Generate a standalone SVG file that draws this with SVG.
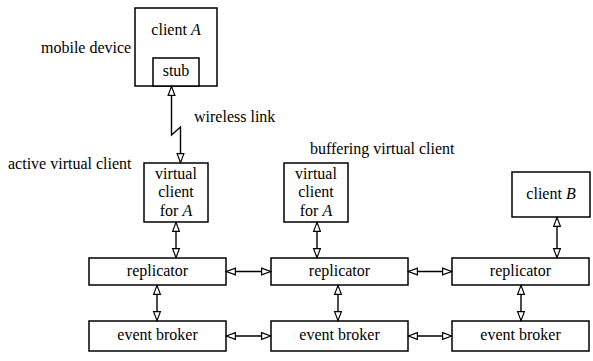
<svg xmlns="http://www.w3.org/2000/svg" width="593" height="361" viewBox="0 0 593 361">
<style>
.box{fill:#fff;stroke:#000;stroke-width:1.5}
.t{font-family:'Liberation Serif','DejaVu Serif',serif;font-size:16px;fill:#000}
.c{text-anchor:middle}
.ln{fill:none;stroke:#000;stroke-width:1.4;marker-start:url(#ah);marker-end:url(#ah)}
</style>
<defs>
<marker id="ah" viewBox="0 0 10 8" refX="10" refY="4" markerWidth="10" markerHeight="8" orient="auto-start-reverse" markerUnits="userSpaceOnUse" overflow="visible">
<path d="M0.6,0.6 L9.6,4 L0.6,7.4 z" fill="#fff" stroke="#000" stroke-width="1.2"/>
</marker>
</defs>
<rect width="593" height="361" fill="#fff"/>
<text class="t" font-family="Liberation Serif, serif" x="41" y="53">mobile device</text>
<text class="t" font-family="Liberation Serif, serif" x="194" y="122">wireless link</text>
<text class="t" font-family="Liberation Serif, serif" x="8" y="169">active virtual client</text>
<text class="t" font-family="Liberation Serif, serif" x="310" y="154">buffering virtual client</text>
<g id="clientA">
<rect class="box" x="135" y="8" width="82" height="78"/>
<text class="t c" x="176" y="35">client <tspan font-style="italic">A</tspan></text>
</g>
<g id="stub">
<rect class="box" x="153" y="58" width="46" height="28"/>
<text class="t c" x="176" y="76">stub</text>
</g>
<g id="vc1">
<rect class="box" x="144" y="163" width="64" height="59"/>
<text class="t c" x="176" y="179">virtual</text>
<text class="t c" x="176" y="197">client</text>
<text class="t c" x="176" y="216">for <tspan font-style="italic">A</tspan></text>
</g>
<g id="vc2">
<rect class="box" x="284" y="163" width="64" height="59"/>
<text class="t c" x="316" y="179">virtual</text>
<text class="t c" x="316" y="197">client</text>
<text class="t c" x="316" y="216">for <tspan font-style="italic">A</tspan></text>
</g>
<g id="clientB">
<rect class="box" x="512" y="172" width="78" height="45"/>
<text class="t c" x="551" y="199">client <tspan font-style="italic">B</tspan></text>
</g>
<g id="rep1">
<rect class="box" x="89" y="258" width="137" height="27"/>
<text class="t c" x="157.5" y="276">replicator</text>
</g>
<g id="rep2">
<rect class="box" x="271" y="258" width="137" height="27"/>
<text class="t c" x="339.5" y="276">replicator</text>
</g>
<g id="rep3">
<rect class="box" x="452" y="258" width="137" height="27"/>
<text class="t c" x="520.5" y="276">replicator</text>
</g>
<g id="eb1">
<rect class="box" x="89" y="321" width="137" height="30"/>
<text class="t c" x="157.5" y="340">event broker</text>
</g>
<g id="eb2">
<rect class="box" x="271" y="321" width="137" height="30"/>
<text class="t c" x="339.5" y="340">event broker</text>
</g>
<g id="eb3">
<rect class="box" x="452" y="321" width="137" height="30"/>
<text class="t c" x="520.5" y="340">event broker</text>
</g>
<g id="connectors">
<path class="ln" d="M171.5,86 L171.5,135 L180.5,127 L180.5,163"/>
<path class="ln" d="M176,222 L176,258"/>
<path class="ln" d="M317,222 L317,258"/>
<path class="ln" d="M557,217 L557,258"/>
<path class="ln" d="M157,285 L157,321"/>
<path class="ln" d="M338,285 L338,321"/>
<path class="ln" d="M521,285 L521,321"/>
<path class="ln" d="M226,271.5 L271,271.5"/>
<path class="ln" d="M408,271.5 L452,271.5"/>
<path class="ln" d="M226,336 L271,336"/>
<path class="ln" d="M408,336 L452,336"/>
</g>
</svg>
